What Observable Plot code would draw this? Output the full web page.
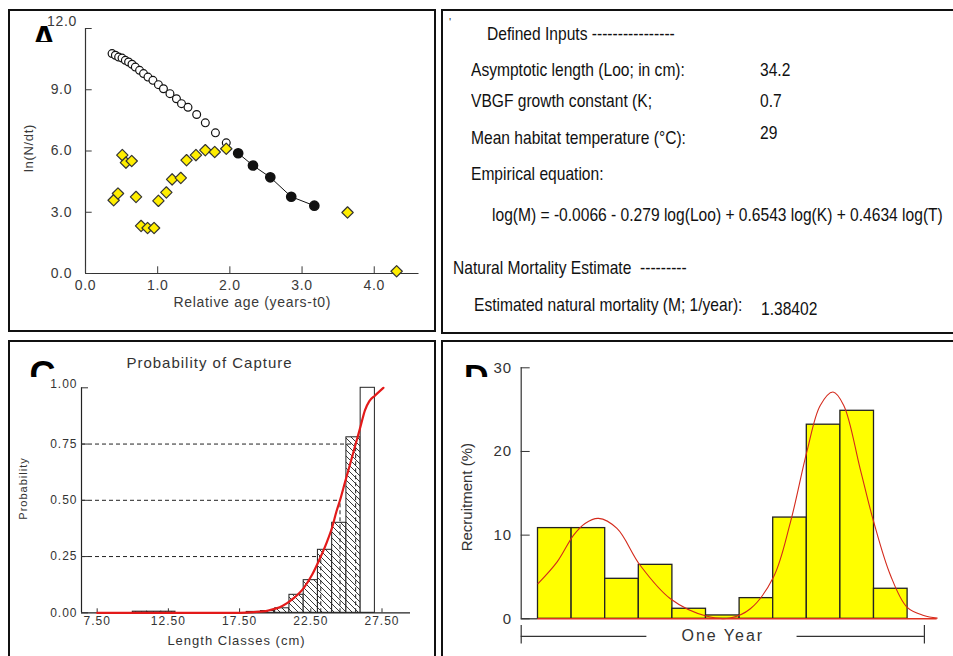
<!DOCTYPE html>
<html><head><meta charset="utf-8">
<script src="https://cdn.jsdelivr.net/npm/d3@7"></script>
<script src="https://cdn.jsdelivr.net/npm/@observablehq/plot@0.6"></script>
<style>
html,body{margin:0;padding:0;background:#fff;}
#wrap{position:relative;width:953px;height:656px;overflow:hidden;font-family:"Liberation Sans",Arial,sans-serif;background:#fff;}
.panel{position:absolute;box-sizing:border-box;border:2px solid #111;background:#fff;overflow:hidden;}
.panel svg{position:absolute;left:0;top:0;}
.clip{position:absolute;overflow:hidden;}
.clip span{position:absolute;left:0;top:0;font-weight:bold;color:#000;font-family:"Liberation Sans",Arial,sans-serif;}
.txt{position:absolute;white-space:pre;transform-origin:0 50%;transform:scaleX(0.82);font-size:19px;line-height:19px;color:#111;font-family:"Liberation Sans",Arial,sans-serif;}
</style></head><body>
<div id="wrap">
  <div class="panel" id="pA" style="left:8px;top:9px;width:428px;height:323px"></div>
  <div class="panel" id="pB" style="left:441px;top:9px;width:520px;height:325px"></div>
  <div class="panel" id="pC" style="left:8px;top:340px;width:428px;height:330px"></div>
  <div class="panel" id="pD" style="left:441px;top:340px;width:520px;height:330px"></div>
</div>
<script>
// ---------- Panel A: catch curve ----------
const openAge  = [0.368,0.414,0.459,0.506,0.552,0.597,0.644,0.690,0.749,0.804,0.865,0.934,1.01,1.08,1.17,1.26,1.33,1.42,1.54,1.66,1.80,1.95];
const openLnN  = [10.77,10.69,10.60,10.55,10.44,10.36,10.25,10.11,9.95,9.79,9.62,9.46,9.25,9.05,8.81,8.56,8.32,8.14,7.79,7.38,6.89,6.40];
const usedAge  = [2.115,2.32,2.56,2.85,3.17];
const usedLnN  = [5.89,5.29,4.71,3.76,3.32];
const catchAge = [0.39,0.45,0.51,0.56,0.64,0.70,0.77,0.86,0.95,1.01,1.12,1.20,1.32,1.40,1.53,1.66,1.79,1.95,3.63,4.31];
const catchLnN = [3.59,3.92,5.80,5.43,5.51,3.75,2.33,2.23,2.23,3.56,3.97,4.61,4.68,5.55,5.80,6.04,5.95,6.11,2.99,0.11];
const ageTicks = [0,1,2,3,4];
const lnTicks  = [0,3,6,9,12];

// ---------- Panel B: text ----------
const inputLabels = ["Asymptotic length (Loo; in cm):","VBGF growth constant (K;","Mean habitat temperature (°C):"];
const inputValues = ["34.2","0.7","29"];
const equationText = "log(M) = -0.0066 - 0.279 log(Loo) + 0.6543 log(K) + 0.4634 log(T)";
const mortalityValue = "1.38402";

// ---------- Panel C: probability of capture ----------
const classLo   = [10,11,12,18,19,20,21,22,23,24,25,26];
const classProb = [0.005,0.005,0.005,0.004,0.008,0.02,0.08,0.145,0.28,0.40,0.78,1.0];
const fitLen  = [7.5,17.5,18.5,19.5,20.5,21.3,22.0,22.6,23.2,23.6,24.0,24.3,24.55,24.9,25.3,25.65,26.0,26.3,26.6,27.0,27.6];
const fitProb = [0,0,0.003,0.01,0.03,0.065,0.11,0.17,0.25,0.31,0.38,0.45,0.5,0.58,0.67,0.75,0.83,0.9,0.94,0.965,1.0];
const selProb = [0.25,0.5,0.75];
const selLen  = [23.2,24.55,25.65];
const lenTicks  = [7.5,12.5,17.5,22.5,27.5];
const probTicks = [0,0.25,0.5,0.75,1];

// ---------- Panel D: recruitment ----------
const monthIndex = [0,1,2,3,4,5,6,7,8,9,10];
const recruitPct = [10.84,10.84,4.78,6.45,1.2,0.4,2.47,12.1,23.2,24.86,3.59];
const curveT   = [0,0.57,1.06,1.4,1.8,2.35,3.04,3.94,5.03,5.72,6.32,7.01,7.51,8.01,8.40,8.78,9.10,9.59,9.99,10.49,10.98,11.48,11.88];
const curvePct = [4.2,6.8,10.0,11.4,12.0,10.8,6.4,2.4,0.3,0.1,1.2,5.0,11.5,20.1,25.5,27.1,25.5,17.9,11.6,5.2,1.4,0.4,0.08];
const recTicks = [0,10,20,30];
const yearSpan = [-0.5, 11.5];
const yearLabelGap = [3.24, 7.71];

const FONT = "Liberation Sans, Arial, sans-serif";
const zip = (a, b, ka, kb) => a.map((v, i) => ({[ka]: v, [kb]: b[i]}));

// ===== Panel A =====
const openPts  = zip(openAge, openLnN, "age", "ln");
const usedPts  = zip(usedAge, usedLnN, "age", "ln");
const catchPts = zip(catchAge, catchLnN, "age", "ln");
const fmt1 = d3.format(".1f");
const lnTop = d3.max(lnTicks);
const plotA = Plot.plot({
  width: 424, height: 319, marginLeft: 75, marginRight: 15.5, marginTop: 17, marginBottom: 57,
  x: {domain: [0, 4.62], axis: null}, y: {domain: [0, 12], axis: null},
  style: {fontFamily: FONT, fontSize: "14px", color: "#3a3a3a", background: "transparent", overflow: "visible", letterSpacing: "0.7px"},
  marks: [
    Plot.ruleX([0], {stroke: "#333", strokeWidth: 1.2}),
    Plot.ruleY([0], {stroke: "#333", strokeWidth: 1.2}),
    Plot.axisX(ageTicks, {tickSize: -6.7, tickPadding: 13.7, tickFormat: fmt1, label: null, fontSize: 14}),
    Plot.axisY(lnTicks, {tickSize: -6.7, tickPadding: 20, tickFormat: d => d === lnTop ? "" : fmt1(d), label: null, fontSize: 14}),
    Plot.text([lnTop], {x: 0, y: d => d, text: fmt1, textAnchor: "end", dx: -8.5, dy: -7, fontSize: 14, fill: "#3a3a3a"}),
    Plot.dot(openPts, {x: "age", y: "ln", r: 3.9, fill: "white", stroke: "#111", strokeWidth: 1.2}),
    Plot.dot(catchPts, {x: "age", y: "ln", symbol: "diamond2", r: 5.1, fill: "#ffee00", stroke: "#333", strokeWidth: 1.2, strokeLinejoin: "round"}),
    Plot.line(usedPts, {x: "age", y: "ln", stroke: "#111", strokeWidth: 1}),
    Plot.dot(usedPts, {x: "age", y: "ln", r: 4.6, fill: "#111", stroke: "#111"}),
    Plot.text(["Relative age (years-t0)"], {frameAnchor: "bottom", dy: 33.7, fontSize: 14, fill: "#3a3a3a"}),
    Plot.text(["ln(N/dt)"], {frameAnchor: "left", textAnchor: "middle", rotate: -90, dx: -56.7, dy: -3, fontSize: 13, fill: "#3a3a3a"})
  ]
});
document.getElementById("pA").appendChild(plotA);

// ===== Panel C =====
const classes = classLo.map((lo, i) => ({lo, hi: lo + 1, p: classProb[i]}));
const partial = classes.filter(d => d.p < 1);
const full = classes.filter(d => d.p >= 1);
const fitPts = zip(fitLen, fitProb, "len", "p");
const sel = zip(selLen, selProb, "len", "p");
const xMinC = 6.4, xMaxC = 29.5;
const fmt2 = d3.format(".2f");
const probTop = d3.max(probTicks);
const plotC = Plot.plot({
  width: 424, height: 314, marginLeft: 71, marginRight: 24, marginTop: 45.3, marginBottom: 43.7,
  x: {domain: [xMinC, xMaxC], axis: null}, y: {domain: [0, 1], axis: null},
  style: {fontFamily: FONT, fontSize: "12px", color: "#333", background: "transparent", overflow: "visible", letterSpacing: "1px"},
  marks: [
    Plot.rectY(partial, {x1: "lo", x2: "hi", y: "p", fill: "url(#hatchC)", stroke: "#222", strokeWidth: 1}),
    Plot.rectY(full, {x1: "lo", x2: "hi", y: "p", fill: "white", stroke: "#222", strokeWidth: 1}),
    Plot.ruleY(sel, {y: "p", x1: xMinC, x2: "len", stroke: "#222", strokeDasharray: "4,3", strokeWidth: 1}),
    Plot.ruleX(sel, {x: "len", y1: 0, y2: "p", stroke: "#222", strokeDasharray: "4,3", strokeWidth: 1}),
    Plot.ruleX([xMinC], {stroke: "#222", strokeWidth: 1.2}),
    Plot.ruleY([0], {stroke: "#222", strokeWidth: 1.2}),
    Plot.axisX(lenTicks, {tickSize: -4, tickPadding: 8, tickFormat: fmt2, label: null, fontSize: 12}),
    Plot.axisY(probTicks, {tickSize: -7, tickPadding: 11, tickFormat: d => d === probTop ? "" : fmt2(d), label: null, fontSize: 12}),
    Plot.text([probTop], {x: xMinC, y: d => d, text: fmt2, textAnchor: "end", dx: -4, dy: -4, fontSize: 12, fill: "#333"}),
    Plot.line(fitPts, {x: "len", y: "p", stroke: "#e31a1a", strokeWidth: 2.2, curve: "monotone-x"}),
    Plot.text(["Probability of Capture"], {frameAnchor: "top", dx: -36.5, dy: -30.6, fontSize: 15, fill: "#333"}),
    Plot.text(["Length Classes (cm)"], {frameAnchor: "bottom", dx: -9.5, dy: 31.7, fontSize: 13, fill: "#333"}),
    Plot.text(["Probability"], {frameAnchor: "left", textAnchor: "middle", rotate: -90, dx: -58, dy: -11.8, fontSize: 11, fill: "#333"})
  ]
});
d3.select(plotC).insert("defs", ":first-child").html(
  '<pattern id="hatchC" patternUnits="userSpaceOnUse" width="6" height="6">' +
  '<rect width="6" height="6" fill="white"/>' +
  '<path d="M-1,-1L7,7M-1,5L1,7M5,-1L7,1" stroke="#222" stroke-width="0.9"/></pattern>');
document.getElementById("pC").appendChild(plotC);

// ===== Panel D =====
const bars = monthIndex.map((t, i) => ({t, t2: t + 1, pct: recruitPct[i]}));
const curvePts = zip(curveT, curvePct, "t", "pct");
const curveEnd = curveT[curveT.length - 1];
const bracketY = -2.1, bracketTick = [-0.8, -3.0];
const plotD = Plot.plot({
  width: 510, height: 314, marginLeft: 77.7, marginRight: 12.3, marginTop: 25.3, marginBottom: 37.7,
  x: {domain: [-0.5, 12], axis: null}, y: {domain: [0, 30], axis: null},
  style: {fontFamily: FONT, fontSize: "15px", color: "#333", background: "transparent", overflow: "visible", letterSpacing: "1px"},
  marks: [
    Plot.rectY(bars, {x1: "t", x2: "t2", y: "pct", fill: "#ffff00", stroke: "#222", strokeWidth: 1.3}),
    Plot.line(curvePts, {x: "t", y: "pct", stroke: "#d42a1c", strokeWidth: 1.1, curve: "catmull-rom"}),
    Plot.ruleY([0], {x1: yearSpan[0], x2: 0, stroke: "#333", strokeWidth: 1.3}),
    Plot.ruleY([0], {x1: 0, x2: curveEnd, stroke: "#e03020", strokeWidth: 1.5}),
    Plot.ruleX([yearSpan[0]], {y1: 0, y2: 30, stroke: "#333", strokeWidth: 1.2}),
    Plot.axisY(recTicks, {tickSize: -9, tickPadding: 18, label: null, fontSize: 15}),
    Plot.ruleY([bracketY], {x1: yearSpan[0], x2: yearLabelGap[0], stroke: "#333", strokeWidth: 1.2}),
    Plot.ruleY([bracketY], {x1: yearLabelGap[1], x2: yearSpan[1], stroke: "#333", strokeWidth: 1.2}),
    Plot.ruleX(yearSpan, {y1: bracketTick[0], y2: bracketTick[1], stroke: "#333", strokeWidth: 1.2}),
    Plot.text(["One Year"], {x: (yearSpan[0] + yearSpan[1]) / 2, y: bracketY, fontSize: 16, fill: "#333"}),
    Plot.text(["Recruitment (%)"], {frameAnchor: "left", textAnchor: "middle", rotate: -90, dx: -54, dy: 3.9, fontSize: 15, fill: "#333"})
  ]
});
d3.select(plotD).selectAll("text").filter(function() { return this.textContent === "One Year"; }).style("letter-spacing", "2px");
d3.select(plotD).selectAll("text").filter(function() { return this.textContent === "Recruitment (%)"; }).style("letter-spacing", "0px");
document.getElementById("pD").appendChild(plotD);

// ===== Panel B text & panel letters =====
const wrap = document.getElementById("wrap");
function addText(str, left, capCenter) {
  const el = document.createElement("div");
  el.className = "txt";
  el.textContent = str;
  el.style.left = left + "px";
  el.style.top = (capCenter - 9.3) + "px";
  wrap.appendChild(el);
}
addText("Defined Inputs ----------------", 486.7, 33);
const inputCenters = [69.7, 100.3, 137];
const valueCenters = [69.7, 100.3, 132];
inputLabels.forEach((s, i) => addText(s, 470.7, inputCenters[i]));
inputValues.forEach((s, i) => addText(s, 760, valueCenters[i]));
addText("Empirical equation:", 470.7, 173.3);
addText(equationText, 491.7, 214);
addText("Natural Mortality Estimate  ---------", 452.7, 267.3);
addText("Estimated natural mortality (M; 1/year):", 474.3, 304);
addText(mortalityValue, 760.7, 308.3);

function addLetter(ch, left, top, w, h, size) {
  const d = document.createElement("div");
  d.className = "clip";
  Object.assign(d.style, {left: left + "px", top: top + "px", width: w + "px", height: h + "px"});
  const s = document.createElement("span");
  s.textContent = ch;
  s.style.fontSize = size + "px";
  s.style.lineHeight = size + "px";
  d.appendChild(s);
  wrap.appendChild(d);
}
addLetter("A", 31, 22, 22, 20, 36);
addLetter("C", 29.5, 357, 26, 19.7, 36);
addLetter("D", 464, 359, 26, 17.7, 34);
const tick = document.createElement("div");
tick.textContent = "'";
Object.assign(tick.style, {position: "absolute", left: "449px", top: "16px", fontSize: "11px", color: "#333"});
wrap.appendChild(tick);
</script>
</body></html>
